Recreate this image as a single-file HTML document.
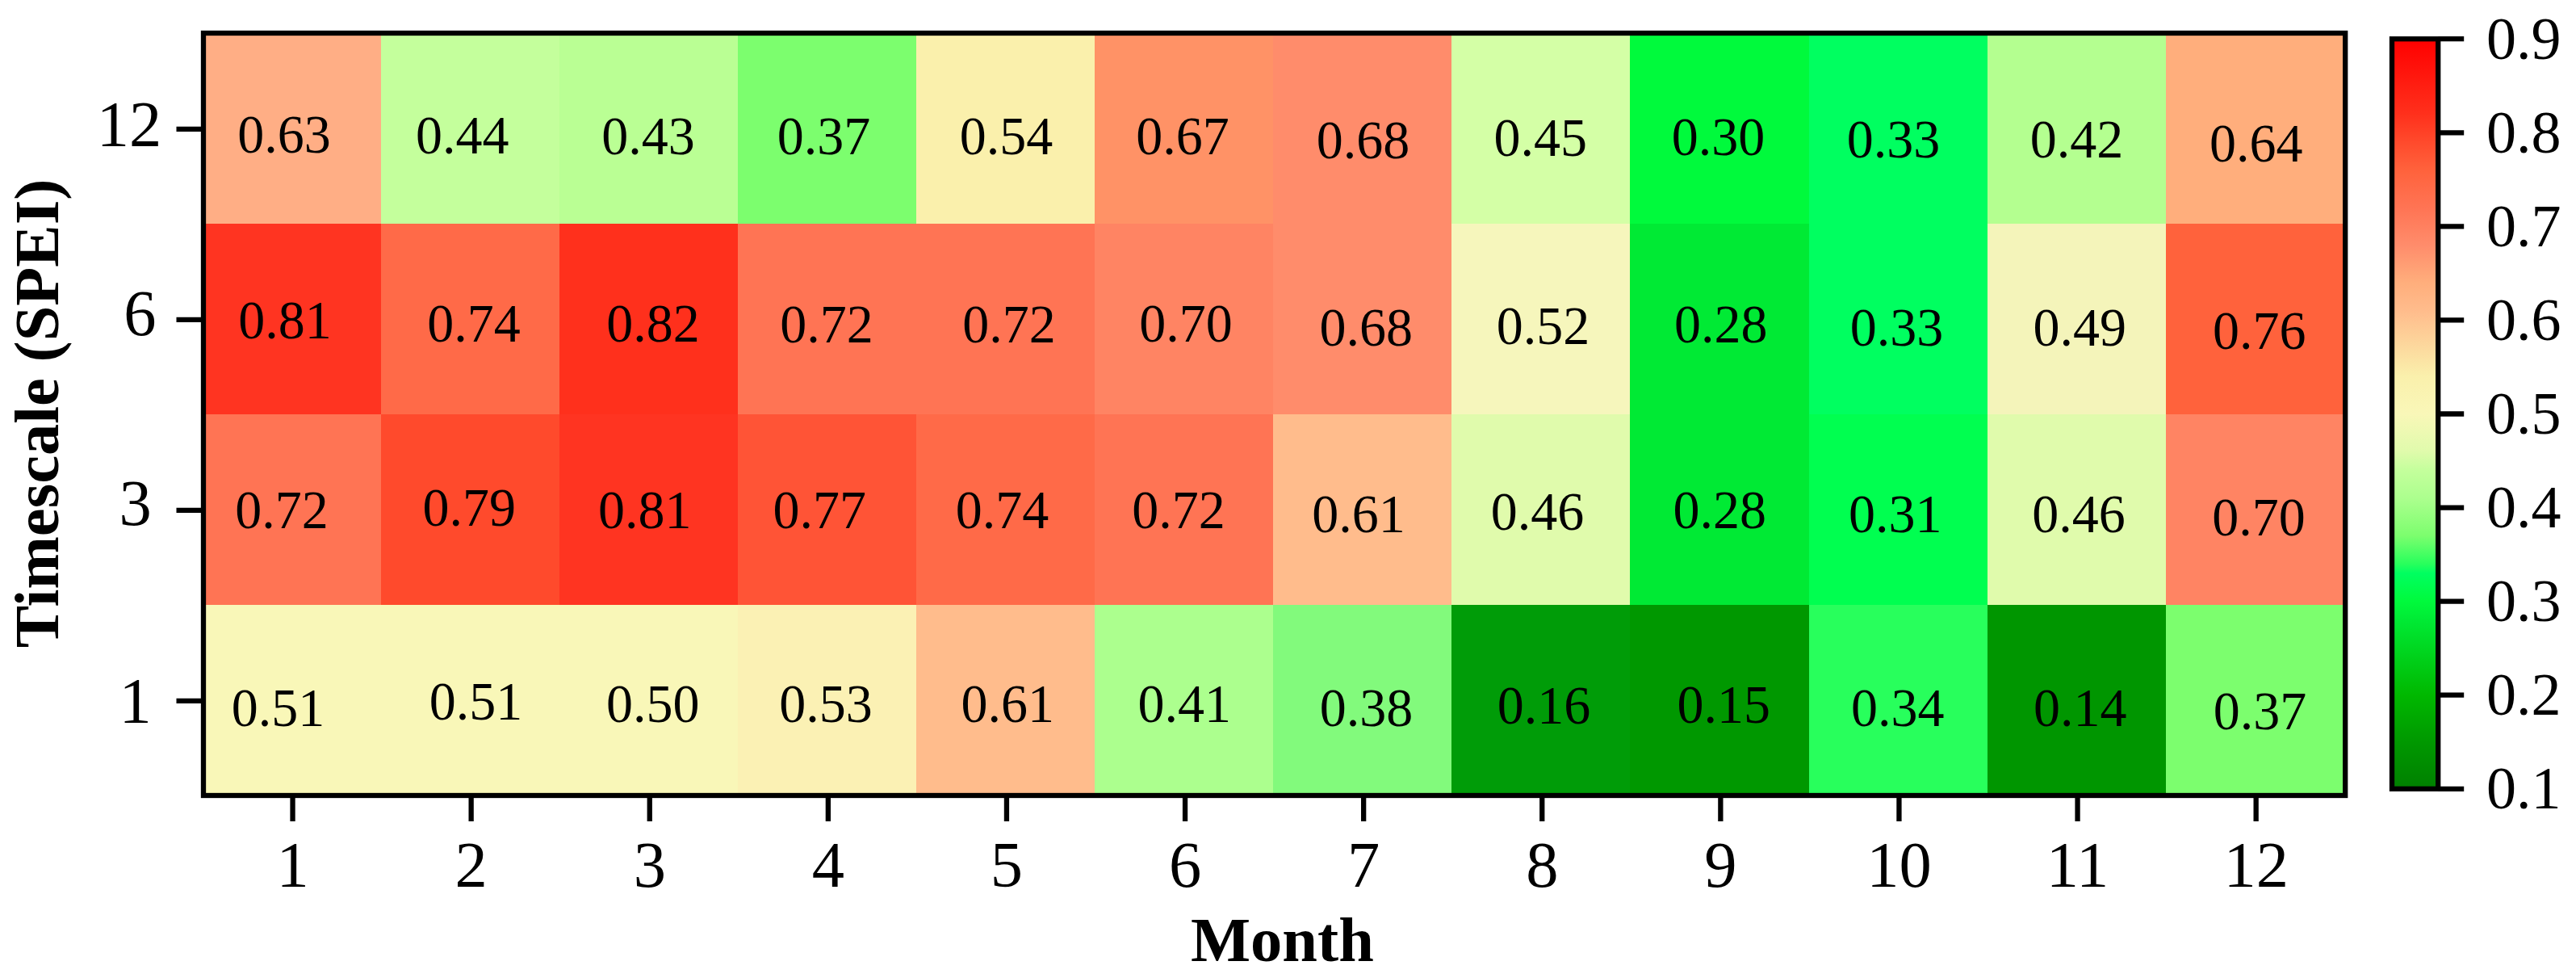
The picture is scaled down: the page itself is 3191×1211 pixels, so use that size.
<!DOCTYPE html>
<html><head><meta charset="utf-8"><title>Heatmap</title>
<style>
html,body{margin:0;padding:0;background:#fff;}
svg{display:block}
text{font-family:"Liberation Serif","Times New Roman",serif;fill:#000}
.c{font-size:66px;text-anchor:middle}
.t{font-size:80.5px}
.k{font-size:74px}
.b{font-size:78.5px;font-weight:bold;text-anchor:middle}
</style></head><body>
<svg width="3191" height="1211" viewBox="0 0 3191 1211">
<rect width="3191" height="1211" fill="#fff"/>
<g shape-rendering="crispEdges">
<rect x="250.60" y="40.70" width="221.70" height="236.60" fill="rgb(255,174,133)"/>
<rect x="471.70" y="40.70" width="221.70" height="236.60" fill="rgb(196,255,156)"/>
<rect x="692.80" y="40.70" width="221.70" height="236.60" fill="rgb(186,255,148)"/>
<rect x="913.90" y="40.70" width="221.70" height="236.60" fill="rgb(124,254,110)"/>
<rect x="1135.00" y="40.70" width="221.70" height="236.60" fill="rgb(250,240,172)"/>
<rect x="1356.10" y="40.70" width="221.70" height="236.60" fill="rgb(255,146,102)"/>
<rect x="1577.20" y="40.70" width="221.70" height="236.60" fill="rgb(255,140,107)"/>
<rect x="1798.30" y="40.70" width="221.70" height="236.60" fill="rgb(212,255,166)"/>
<rect x="2019.40" y="40.70" width="221.70" height="236.60" fill="rgb(0,250,60)"/>
<rect x="2240.50" y="40.70" width="221.70" height="236.60" fill="rgb(0,255,96)"/>
<rect x="2461.60" y="40.70" width="221.70" height="236.60" fill="rgb(180,255,144)"/>
<rect x="2682.70" y="40.70" width="221.70" height="236.60" fill="rgb(255,174,124)"/>
<rect x="250.60" y="276.70" width="221.70" height="236.60" fill="rgb(255,52,33)"/>
<rect x="471.70" y="276.70" width="221.70" height="236.60" fill="rgb(255,106,72)"/>
<rect x="692.80" y="276.70" width="221.70" height="236.60" fill="rgb(255,48,28)"/>
<rect x="913.90" y="276.70" width="221.70" height="236.60" fill="rgb(255,116,84)"/>
<rect x="1135.00" y="276.70" width="221.70" height="236.60" fill="rgb(255,116,84)"/>
<rect x="1356.10" y="276.70" width="221.70" height="236.60" fill="rgb(255,132,99)"/>
<rect x="1577.20" y="276.70" width="221.70" height="236.60" fill="rgb(255,140,107)"/>
<rect x="1798.30" y="276.70" width="221.70" height="236.60" fill="rgb(246,246,188)"/>
<rect x="2019.40" y="276.70" width="221.70" height="236.60" fill="rgb(0,234,52)"/>
<rect x="2240.50" y="276.70" width="221.70" height="236.60" fill="rgb(0,255,96)"/>
<rect x="2461.60" y="276.70" width="221.70" height="236.60" fill="rgb(244,244,186)"/>
<rect x="2682.70" y="276.70" width="221.70" height="236.60" fill="rgb(255,98,60)"/>
<rect x="250.60" y="512.70" width="221.70" height="236.60" fill="rgb(255,116,84)"/>
<rect x="471.70" y="512.70" width="221.70" height="236.60" fill="rgb(255,74,44)"/>
<rect x="692.80" y="512.70" width="221.70" height="236.60" fill="rgb(255,52,33)"/>
<rect x="913.90" y="512.70" width="221.70" height="236.60" fill="rgb(255,84,54)"/>
<rect x="1135.00" y="512.70" width="221.70" height="236.60" fill="rgb(255,106,72)"/>
<rect x="1356.10" y="512.70" width="221.70" height="236.60" fill="rgb(255,116,84)"/>
<rect x="1577.20" y="512.70" width="221.70" height="236.60" fill="rgb(255,188,140)"/>
<rect x="1798.30" y="512.70" width="221.70" height="236.60" fill="rgb(224,251,172)"/>
<rect x="2019.40" y="512.70" width="221.70" height="236.60" fill="rgb(0,234,52)"/>
<rect x="2240.50" y="512.70" width="221.70" height="236.60" fill="rgb(0,255,80)"/>
<rect x="2461.60" y="512.70" width="221.70" height="236.60" fill="rgb(224,251,172)"/>
<rect x="2682.70" y="512.70" width="221.70" height="236.60" fill="rgb(255,132,99)"/>
<rect x="250.60" y="748.70" width="221.70" height="236.60" fill="rgb(249,247,184)"/>
<rect x="471.70" y="748.70" width="221.70" height="236.60" fill="rgb(249,247,184)"/>
<rect x="692.80" y="748.70" width="221.70" height="236.60" fill="rgb(249,247,184)"/>
<rect x="913.90" y="748.70" width="221.70" height="236.60" fill="rgb(251,241,180)"/>
<rect x="1135.00" y="748.70" width="221.70" height="236.60" fill="rgb(255,188,140)"/>
<rect x="1356.10" y="748.70" width="221.70" height="236.60" fill="rgb(172,255,142)"/>
<rect x="1577.20" y="748.70" width="221.70" height="236.60" fill="rgb(130,250,124)"/>
<rect x="1798.30" y="748.70" width="221.70" height="236.60" fill="rgb(0,156,8)"/>
<rect x="2019.40" y="748.70" width="221.70" height="236.60" fill="rgb(0,152,0)"/>
<rect x="2240.50" y="748.70" width="221.70" height="236.60" fill="rgb(40,255,92)"/>
<rect x="2461.60" y="748.70" width="221.70" height="236.60" fill="rgb(0,150,0)"/>
<rect x="2682.70" y="748.70" width="221.70" height="236.60" fill="rgb(124,254,110)"/>
</g>
<rect x="252.0" y="41.0" width="2653.20" height="944.0" fill="none" stroke="#000" stroke-width="6.3"/>
<line x1="362.55" y1="985.0" x2="362.55" y2="1017.0" stroke="#000" stroke-width="6.3"/>
<text class="t" text-anchor="middle" x="362.55" y="1097.8">1</text>
<line x1="583.65" y1="985.0" x2="583.65" y2="1017.0" stroke="#000" stroke-width="6.3"/>
<text class="t" text-anchor="middle" x="583.65" y="1097.8">2</text>
<line x1="804.75" y1="985.0" x2="804.75" y2="1017.0" stroke="#000" stroke-width="6.3"/>
<text class="t" text-anchor="middle" x="804.75" y="1097.8">3</text>
<line x1="1025.85" y1="985.0" x2="1025.85" y2="1017.0" stroke="#000" stroke-width="6.3"/>
<text class="t" text-anchor="middle" x="1025.85" y="1097.8">4</text>
<line x1="1246.95" y1="985.0" x2="1246.95" y2="1017.0" stroke="#000" stroke-width="6.3"/>
<text class="t" text-anchor="middle" x="1246.95" y="1097.8">5</text>
<line x1="1468.05" y1="985.0" x2="1468.05" y2="1017.0" stroke="#000" stroke-width="6.3"/>
<text class="t" text-anchor="middle" x="1468.05" y="1097.8">6</text>
<line x1="1689.15" y1="985.0" x2="1689.15" y2="1017.0" stroke="#000" stroke-width="6.3"/>
<text class="t" text-anchor="middle" x="1689.15" y="1097.8">7</text>
<line x1="1910.25" y1="985.0" x2="1910.25" y2="1017.0" stroke="#000" stroke-width="6.3"/>
<text class="t" text-anchor="middle" x="1910.25" y="1097.8">8</text>
<line x1="2131.35" y1="985.0" x2="2131.35" y2="1017.0" stroke="#000" stroke-width="6.3"/>
<text class="t" text-anchor="middle" x="2131.35" y="1097.8">9</text>
<line x1="2352.45" y1="985.0" x2="2352.45" y2="1017.0" stroke="#000" stroke-width="6.3"/>
<text class="t" text-anchor="middle" x="2352.45" y="1097.8">10</text>
<line x1="2573.55" y1="985.0" x2="2573.55" y2="1017.0" stroke="#000" stroke-width="6.3"/>
<text class="t" text-anchor="middle" x="2573.55" y="1097.8">11</text>
<line x1="2794.65" y1="985.0" x2="2794.65" y2="1017.0" stroke="#000" stroke-width="6.3"/>
<text class="t" text-anchor="middle" x="2794.65" y="1097.8">12</text>
<line x1="218.5" y1="159.80" x2="252.0" y2="159.80" stroke="#000" stroke-width="6.3"/>
<text class="t" text-anchor="middle" x="160.10" y="181.30">12</text>
<line x1="218.5" y1="395.80" x2="252.0" y2="395.80" stroke="#000" stroke-width="6.3"/>
<text class="t" text-anchor="middle" x="173.30" y="415.30">6</text>
<line x1="218.5" y1="631.80" x2="252.0" y2="631.80" stroke="#000" stroke-width="6.3"/>
<text class="t" text-anchor="middle" x="167.50" y="650.30">3</text>
<line x1="218.5" y1="867.80" x2="252.0" y2="867.80" stroke="#000" stroke-width="6.3"/>
<text class="t" text-anchor="middle" x="167.70" y="894.80">1</text>
<text class="c" transform="translate(351.9,188.7) scale(1,1.03)">0.63</text>
<text class="c" transform="translate(572.7,190.1) scale(1,1.03)">0.44</text>
<text class="c" transform="translate(802.9,191.2) scale(1,1.03)">0.43</text>
<text class="c" transform="translate(1020.5,191.2) scale(1,1.03)">0.37</text>
<text class="c" transform="translate(1246.6,191.2) scale(1,1.03)">0.54</text>
<text class="c" transform="translate(1465.1,191.2) scale(1,1.03)">0.67</text>
<text class="c" transform="translate(1688.4,195.6) scale(1,1.03)">0.68</text>
<text class="c" transform="translate(1908.2,192.9) scale(1,1.03)">0.45</text>
<text class="c" transform="translate(2128.5,192.2) scale(1,1.03)">0.30</text>
<text class="c" transform="translate(2345.6,195.3) scale(1,1.03)">0.33</text>
<text class="c" transform="translate(2572.4,195.3) scale(1,1.03)">0.42</text>
<text class="c" transform="translate(2794.8,199.8) scale(1,1.03)">0.64</text>
<text class="c" transform="translate(353.1,418.6) scale(1,1.03)">0.81</text>
<text class="c" transform="translate(586.9,422.7) scale(1,1.03)">0.74</text>
<text class="c" transform="translate(808.9,422.7) scale(1,1.03)">0.82</text>
<text class="c" transform="translate(1023.9,423.7) scale(1,1.03)">0.72</text>
<text class="c" transform="translate(1250.0,423.7) scale(1,1.03)">0.72</text>
<text class="c" transform="translate(1469.0,422.7) scale(1,1.03)">0.70</text>
<text class="c" transform="translate(1692.2,427.9) scale(1,1.03)">0.68</text>
<text class="c" transform="translate(1911.6,426.2) scale(1,1.03)">0.52</text>
<text class="c" transform="translate(2131.8,424.4) scale(1,1.03)">0.28</text>
<text class="c" transform="translate(2349.4,427.9) scale(1,1.03)">0.33</text>
<text class="c" transform="translate(2576.3,427.9) scale(1,1.03)">0.49</text>
<text class="c" transform="translate(2798.8,432.0) scale(1,1.03)">0.76</text>
<text class="c" transform="translate(349.0,654.2) scale(1,1.03)">0.72</text>
<text class="c" transform="translate(581.2,650.8) scale(1,1.03)">0.79</text>
<text class="c" transform="translate(798.8,653.6) scale(1,1.03)">0.81</text>
<text class="c" transform="translate(1015.3,653.6) scale(1,1.03)">0.77</text>
<text class="c" transform="translate(1241.4,654.2) scale(1,1.03)">0.74</text>
<text class="c" transform="translate(1459.9,653.6) scale(1,1.03)">0.72</text>
<text class="c" transform="translate(1683.1,659.4) scale(1,1.03)">0.61</text>
<text class="c" transform="translate(1904.4,656.0) scale(1,1.03)">0.46</text>
<text class="c" transform="translate(2130.2,654.2) scale(1,1.03)">0.28</text>
<text class="c" transform="translate(2347.7,658.7) scale(1,1.03)">0.31</text>
<text class="c" transform="translate(2574.9,658.7) scale(1,1.03)">0.46</text>
<text class="c" transform="translate(2797.9,662.9) scale(1,1.03)">0.70</text>
<text class="c" transform="translate(344.6,899.4) scale(1,1.03)">0.51</text>
<text class="c" transform="translate(589.4,890.7) scale(1,1.03)">0.51</text>
<text class="c" transform="translate(808.8,894.4) scale(1,1.03)">0.50</text>
<text class="c" transform="translate(1023.0,894.4) scale(1,1.03)">0.53</text>
<text class="c" transform="translate(1248.3,894.4) scale(1,1.03)">0.61</text>
<text class="c" transform="translate(1467.2,894.4) scale(1,1.03)">0.41</text>
<text class="c" transform="translate(1692.6,898.6) scale(1,1.03)">0.38</text>
<text class="c" transform="translate(1912.5,896.2) scale(1,1.03)">0.16</text>
<text class="c" transform="translate(2135.2,895.1) scale(1,1.03)">0.15</text>
<text class="c" transform="translate(2350.8,898.6) scale(1,1.03)">0.34</text>
<text class="c" transform="translate(2576.8,898.6) scale(1,1.03)">0.14</text>
<text class="c" transform="translate(2799.6,903.1) scale(1,1.03)">0.37</text>
<text class="b" x="1588.4" y="1190">Month</text>
<text class="b" transform="translate(71.7,512) rotate(-90)">Timescale (SPEI)</text>
<defs><linearGradient id="g" x1="0" y1="1" x2="0" y2="0">
<stop offset="0.0000" stop-color="rgb(0,128,0)"/>
<stop offset="0.0625" stop-color="rgb(0,152,0)"/>
<stop offset="0.1250" stop-color="rgb(0,184,0)"/>
<stop offset="0.2250" stop-color="rgb(0,234,52)"/>
<stop offset="0.2500" stop-color="rgb(0,250,60)"/>
<stop offset="0.2875" stop-color="rgb(0,255,96)"/>
<stop offset="0.3000" stop-color="rgb(40,255,92)"/>
<stop offset="0.3375" stop-color="rgb(124,254,110)"/>
<stop offset="0.3875" stop-color="rgb(172,255,142)"/>
<stop offset="0.4250" stop-color="rgb(196,255,156)"/>
<stop offset="0.4500" stop-color="rgb(224,251,172)"/>
<stop offset="0.5000" stop-color="rgb(249,247,184)"/>
<stop offset="0.5500" stop-color="rgb(250,240,172)"/>
<stop offset="0.6375" stop-color="rgb(255,188,140)"/>
<stop offset="0.6750" stop-color="rgb(255,174,124)"/>
<stop offset="0.7250" stop-color="rgb(255,140,107)"/>
<stop offset="0.7750" stop-color="rgb(255,116,84)"/>
<stop offset="0.8250" stop-color="rgb(255,98,60)"/>
<stop offset="0.8625" stop-color="rgb(255,74,44)"/>
<stop offset="0.9000" stop-color="rgb(255,48,28)"/>
<stop offset="1.0000" stop-color="rgb(255,0,0)"/>
</linearGradient></defs>
<rect x="2963" y="48.2" width="57.20" height="928.60" fill="url(#g)" stroke="#000" stroke-width="6.3"/>
<line x1="3020.2" y1="976.80" x2="3052.2" y2="976.80" stroke="#000" stroke-width="6.3"/>
<text class="k" x="3080" y="1001.10">0.1</text>
<line x1="3020.2" y1="860.72" x2="3052.2" y2="860.72" stroke="#000" stroke-width="6.3"/>
<text class="k" x="3080" y="885.02">0.2</text>
<line x1="3020.2" y1="744.65" x2="3052.2" y2="744.65" stroke="#000" stroke-width="6.3"/>
<text class="k" x="3080" y="768.95">0.3</text>
<line x1="3020.2" y1="628.58" x2="3052.2" y2="628.58" stroke="#000" stroke-width="6.3"/>
<text class="k" x="3080" y="652.88">0.4</text>
<line x1="3020.2" y1="512.50" x2="3052.2" y2="512.50" stroke="#000" stroke-width="6.3"/>
<text class="k" x="3080" y="536.80">0.5</text>
<line x1="3020.2" y1="396.42" x2="3052.2" y2="396.42" stroke="#000" stroke-width="6.3"/>
<text class="k" x="3080" y="420.72">0.6</text>
<line x1="3020.2" y1="280.35" x2="3052.2" y2="280.35" stroke="#000" stroke-width="6.3"/>
<text class="k" x="3080" y="304.65">0.7</text>
<line x1="3020.2" y1="164.28" x2="3052.2" y2="164.28" stroke="#000" stroke-width="6.3"/>
<text class="k" x="3080" y="188.58">0.8</text>
<line x1="3020.2" y1="48.20" x2="3052.2" y2="48.20" stroke="#000" stroke-width="6.3"/>
<text class="k" x="3080" y="72.50">0.9</text>
</svg></body></html>
